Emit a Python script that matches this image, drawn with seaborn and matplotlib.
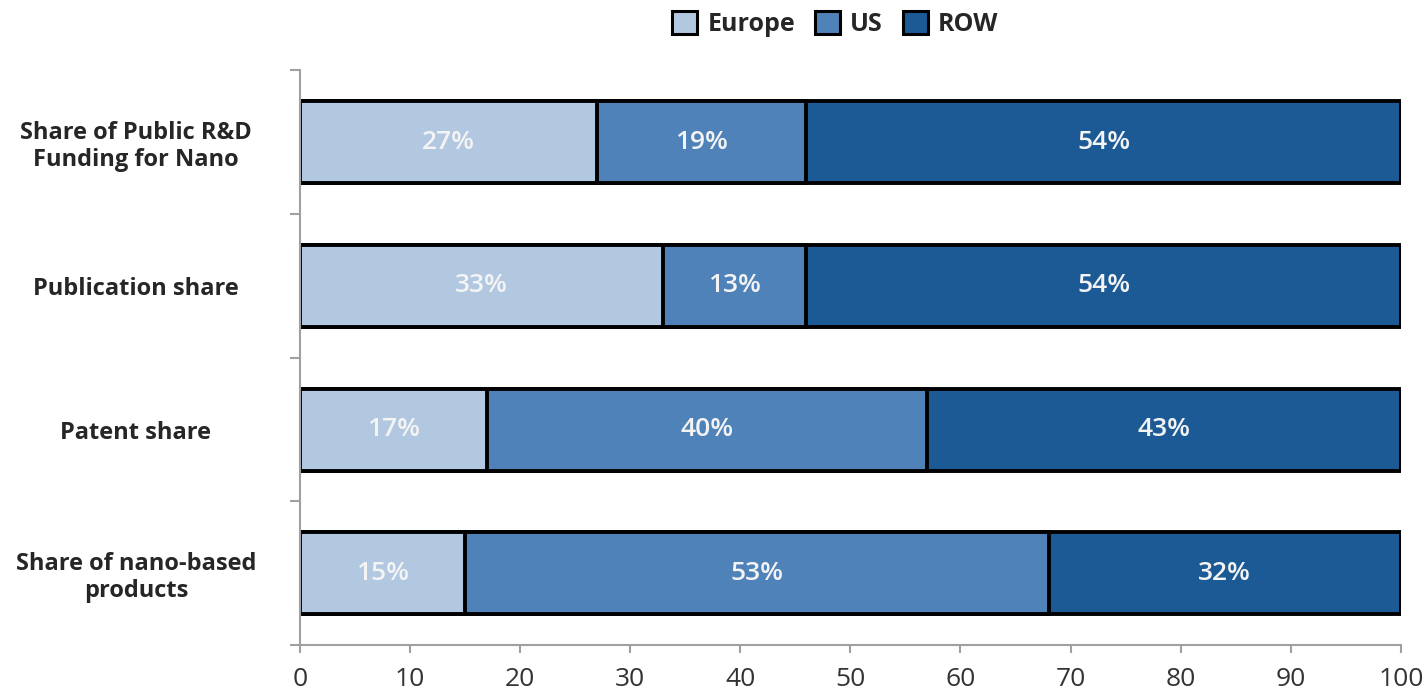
import matplotlib
matplotlib.use("Agg")
import matplotlib.pyplot as plt
from matplotlib.patches import Patch
import numpy as np
import pandas as pd
import seaborn as sns

# --- data ---
categories = [
    "Share of Public R&D\nFunding for Nano",
    "Publication share",
    "Patent share",
    "Share of nano-based\nproducts",
]
europe = [27, 33, 17, 15]
us = [19, 13, 40, 53]
row = [54, 54, 43, 32]

series_names = ["Europe", "US", "ROW"]
colors = ["#B2C8E1", "#4F82B8", "#1C5A96"]

df = pd.DataFrame({"category": categories, "Europe": europe, "US": us, "ROW": row})
# cumulative ends so the bars can be drawn back to front
df["end_europe"] = df["Europe"]
df["end_us"] = df["Europe"] + df["US"]
df["end_row"] = df["end_us"] + df["ROW"]

sns.set_style("white")
plt.rcParams["font.family"] = ["Open Sans", "DejaVu Sans"]

fig = plt.figure(figsize=(14.28, 6.96), dpi=100)
ax = fig.add_axes([0.210, 0.073, 0.771, 0.826])

# --- stacked bars: widest first, shorter ones on top ---
for col, c in zip(["end_row", "end_us", "end_europe"], colors[::-1]):
    sns.barplot(data=df, x=col, y="category", orient="h", color=c, saturation=1,
                edgecolor="black", linewidth=2.8, width=0.57, ax=ax)

# segment labels
starts = np.zeros(len(categories))
for vals in [europe, us, row]:
    for i, v in enumerate(vals):
        ax.text(starts[i] + v / 2, i, f"{v}%", ha="center", va="center",
                color="#F4F4F4", fontsize=19, fontweight="semibold")
    starts += np.array(vals)

# --- axes styling ---
ax.set_xlim(0, 100)
ax.set_ylim(3.5, -0.5)
ax.set_xlabel("")
ax.set_ylabel("")
ax.set_xticks(range(0, 101, 10))
ax.tick_params(axis="x", length=6, width=1.5, color="#A0A0A0", labelsize=19,
               labelcolor="#333333", pad=10, bottom=True)
ax.tick_params(axis="y", which="major", length=0, pad=118, labelsize=17)
for lab in ax.get_yticklabels():
    lab.set_fontweight("bold")
    lab.set_horizontalalignment("center")
    lab.set_multialignment("center")
    lab.set_linespacing(1.15)
ax.set_yticks(np.arange(-0.5, 4.0, 1.0), minor=True)
ax.tick_params(axis="y", which="minor", length=7, width=1.5, color="#A0A0A0", left=True)

sns.despine(ax=ax, top=True, right=True)
for s in ["left", "bottom"]:
    ax.spines[s].set_color("#A0A0A0")
    ax.spines[s].set_linewidth(1.5)

# --- legend at the top ---
handles = [Patch(facecolor=c, edgecolor="black", linewidth=2.2, label=n)
           for n, c in zip(series_names, colors)]
fig.legend(handles=handles, loc="center", bbox_to_anchor=(0.585, 0.965), ncol=3,
           frameon=False, handlelength=1.0, handleheight=1.0, handletextpad=0.4,
           columnspacing=0.8, prop={"weight": "bold", "size": 18})

fig.savefig("out.png", dpi=100)
